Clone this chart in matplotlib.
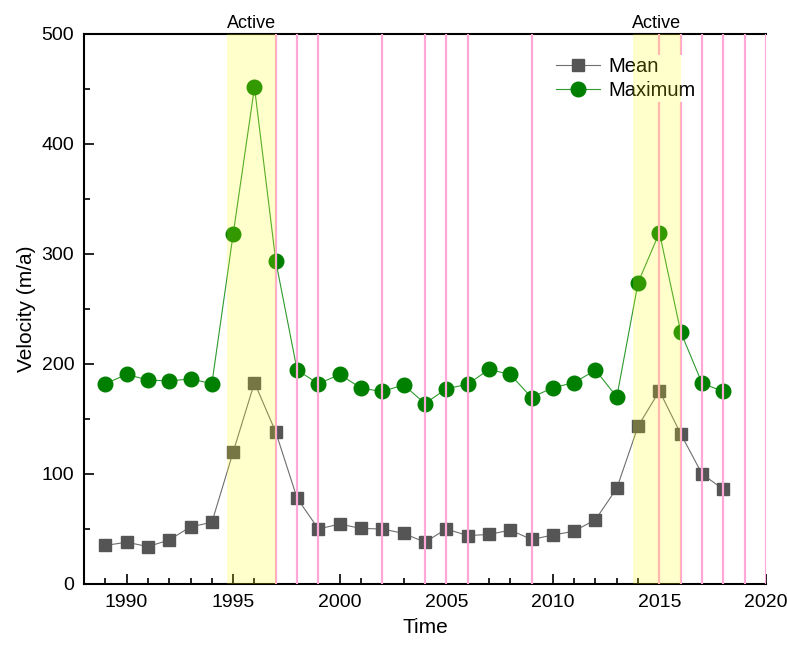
import matplotlib.pyplot as plt
import matplotlib.transforms as mtransforms
from matplotlib.ticker import MultipleLocator

plt.rcParams['font.family'] = ['Liberation Sans', 'DejaVu Sans']

years = list(range(1989, 2019))
mean_vel = [35, 38, 34, 40, 52, 56, 120, 183, 138, 78,
            50, 54.5, 50.5, 50, 46, 38, 50, 44, 45, 49,
            40.5, 44.5, 48, 58.5, 87, 143.5, 175.5, 136.5, 100, 86]
max_vel = [182, 190.5, 185.5, 184.5, 186.5, 182, 318, 451.5, 293.5, 194.5,
           182, 190.5, 178, 175, 181, 164, 177.5, 181.5, 195, 190.5,
           169.5, 178.5, 183, 194.5, 170, 274, 319.5, 229, 182.5, 175]

# years with pink markers
event_years = [1997, 1998, 1999, 2002, 2004, 2005, 2006, 2009,
               2015, 2016, 2017, 2018, 2019, 2020]
# active periods (start, end)
active = [(1994.7, 1997), (2013.75, 2016)]

fig = plt.figure(figsize=(7.87, 6.46), dpi=100)
ax = fig.add_axes([0.1067, 0.096, 0.8666, 0.8514])

ax.plot(years, mean_vel, color='#6e6e6e', lw=0.8, marker='s', ms=9,
        mfc='#555555', mec='#555555', label='Mean', zorder=2)
ax.plot(years, max_vel, color='#2e9a2e', lw=0.8, marker='o', ms=10.5,
        mfc='#008000', mec='#008000', label='Maximum', zorder=3)

for yr in event_years:
    ax.axvline(yr, color='#FFA8D8', lw=1.6, zorder=4)

trans = mtransforms.blended_transform_factory(ax.transData, ax.transAxes)
for start, end in active:
    ax.axvspan(start, end, color='#FFFF00', alpha=0.2, lw=0, zorder=5)
    ax.text((start + end) / 2, 1.004, 'Active', transform=trans,
            ha='center', va='bottom', fontsize=13)

ax.set_xlim(1988, 2020)
ax.set_ylim(0, 500)
ax.xaxis.set_major_locator(MultipleLocator(5))
ax.xaxis.set_minor_locator(MultipleLocator(1))
ax.yaxis.set_major_locator(MultipleLocator(100))
ax.yaxis.set_minor_locator(MultipleLocator(50))
ax.tick_params(which='both', direction='in', labelsize=14, width=1.2,
               top=False, right=False)
ax.tick_params(which='major', length=7, pad=7)
ax.tick_params(which='minor', length=4)

ax.spines['right'].set_visible(False)
for side in ['left', 'bottom', 'top']:
    ax.spines[side].set_linewidth(1.5)

ax.set_xlabel('Time', fontsize=15, labelpad=5)
ax.set_ylabel('Velocity (m/a)', fontsize=15, labelpad=4)

leg = ax.legend(loc='upper left', bbox_to_anchor=(0.68, 0.972),
                fontsize=14.5, frameon=True, facecolor='white',
                edgecolor='none', framealpha=1, borderpad=0.1,
                borderaxespad=0.3, handlelength=2.2, handletextpad=0.4,
                labelspacing=0.25)
leg.set_zorder(4.5)

fig.savefig('out.png', dpi=100)
